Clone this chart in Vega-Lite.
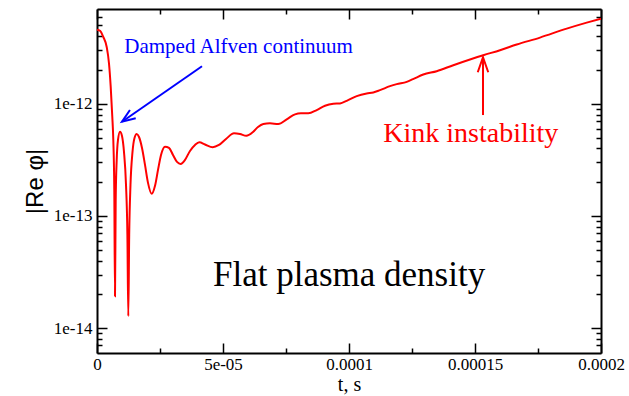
{
  "$schema": "https://vega.github.io/schema/vega-lite/v6.json",
  "width": 504,
  "height": 344,
  "autosize": "none",
  "padding": {"left": 97, "top": 9, "right": 28, "bottom": 43},
  "background": "white",
  "config": {
    "view": {"stroke": null},
    "axis": {
      "domainColor": "black", "domainWidth": 2, "tickColor": "black", "tickWidth": 1.5,
      "labelFont": "Liberation Serif", "labelFontSize": 17, "labelColor": "black",
      "grid": false, "titleColor": "black", "titleFontWeight": "normal"
    }
  },
  "data": {"values": [
    {"t": 0, "v": 4.585e-12}, {"t": 1.19e-6, "v": 4.474e-12}, {"t": 2.50e-6, "v": 3.940e-12},
    {"t": 3.85e-6, "v": 3.211e-12}, {"t": 4.76e-6, "v": 2.286e-12}, {"t": 5.44e-6, "v": 1.416e-12},
    {"t": 6.07e-6, "v": 7.66e-13}, {"t": 6.47e-6, "v": 4.756e-13}, {"t": 6.86e-6, "v": 1.710e-13},
    {"t": 7.14e-6, "v": 1.925e-14}, {"t": 7.42e-6, "v": 1.393e-13}, {"t": 7.82e-6, "v": 3.159e-13},
    {"t": 8.33e-6, "v": 4.756e-13}, {"t": 9.13e-6, "v": 5.638e-13}, {"t": 9.92e-6, "v": 5.163e-13},
    {"t": 1.071e-5, "v": 3.721e-13}, {"t": 1.151e-5, "v": 1.894e-13}, {"t": 1.206e-5, "v": 6.81e-14},
    {"t": 1.242e-5, "v": 1.278e-14}, {"t": 1.278e-5, "v": 6.81e-14}, {"t": 1.329e-5, "v": 1.894e-13},
    {"t": 1.409e-5, "v": 3.721e-13}, {"t": 1.488e-5, "v": 4.956e-13}, {"t": 1.575e-5, "v": 5.378e-13},
    {"t": 1.667e-5, "v": 5.058e-13}, {"t": 1.786e-5, "v": 4.038e-13}, {"t": 1.905e-5, "v": 2.851e-13},
    {"t": 2.024e-5, "v": 1.973e-13}, {"t": 2.171e-5, "v": 1.575e-13}, {"t": 2.302e-5, "v": 1.855e-13},
    {"t": 2.421e-5, "v": 2.574e-13}, {"t": 2.540e-5, "v": 3.499e-13}, {"t": 2.698e-5, "v": 4.147e-13},
    {"t": 2.857e-5, "v": 4.038e-13}, {"t": 3.016e-5, "v": 3.499e-13}, {"t": 3.175e-5, "v": 3.032e-13},
    {"t": 3.321e-5, "v": 2.911e-13}, {"t": 3.492e-5, "v": 3.159e-13}, {"t": 3.690e-5, "v": 3.798e-13},
    {"t": 3.889e-5, "v": 4.295e-13}, {"t": 4.060e-5, "v": 4.539e-13}, {"t": 4.286e-5, "v": 4.339e-13},
    {"t": 4.591e-5, "v": 4.097e-13}, {"t": 4.841e-5, "v": 4.295e-13}, {"t": 5.119e-5, "v": 4.856e-13},
    {"t": 5.437e-5, "v": 5.456e-13}, {"t": 5.675e-5, "v": 5.378e-13}, {"t": 5.925e-5, "v": 5.185e-13},
    {"t": 6.202e-5, "v": 5.638e-13}, {"t": 6.389e-5, "v": 6.208e-13}, {"t": 6.599e-5, "v": 6.6e-13},
    {"t": 6.865e-5, "v": 6.695e-13}, {"t": 7.194e-5, "v": 6.6e-13}, {"t": 7.528e-5, "v": 7.27e-13},
    {"t": 7.857e-5, "v": 8.048e-13}, {"t": 8.095e-5, "v": 8.215e-13}, {"t": 8.385e-5, "v": 8.215e-13},
    {"t": 8.718e-5, "v": 8.790e-13}, {"t": 9.048e-5, "v": 9.599e-13}, {"t": 9.377e-5, "v": 1.0e-12},
    {"t": 9.643e-5, "v": 1.008e-12}, {"t": 9.909e-5, "v": 1.063e-12}, {"t": 1.0306e-4, "v": 1.171e-12},
    {"t": 1.0702e-4, "v": 1.237e-12}, {"t": 1.0964e-4, "v": 1.263e-12}, {"t": 1.1230e-4, "v": 1.324e-12},
    {"t": 1.1627e-4, "v": 1.436e-12}, {"t": 1.1893e-4, "v": 1.497e-12}, {"t": 1.2290e-4, "v": 1.569e-12},
    {"t": 1.2540e-4, "v": 1.658e-12}, {"t": 1.2948e-4, "v": 1.825e-12}, {"t": 1.3480e-4, "v": 1.953e-12},
    {"t": 1.4139e-4, "v": 2.208e-12}, {"t": 1.4802e-4, "v": 2.481e-12}, {"t": 1.5329e-4, "v": 2.710e-12},
    {"t": 1.5992e-4, "v": 3.002e-12}, {"t": 1.6655e-4, "v": 3.373e-12}, {"t": 1.7579e-4, "v": 3.893e-12},
    {"t": 1.8639e-4, "v": 4.68e-12}, {"t": 1.9433e-4, "v": 5.291e-12}, {"t": 2.0e-4, "v": 5.742e-12}
  ]},
  "resolve": {"axis": {"x": "independent", "y": "independent"}},
  "layer": [
    {
      "mark": {"type": "line", "color": "#ff0000", "strokeWidth": 2, "interpolate": "monotone", "clip": true},
      "encoding": {
        "x": {"field": "t", "type": "quantitative",
          "scale": {"domain": [0, 0.0002], "nice": false, "zero": false},
          "axis": {"orient": "bottom", "values": [0, 0.00005, 0.0001, 0.00015, 0.0002], "tickSize": -10,
            "labelPadding": 13, "labelFlush": false,
            "labelExpr": "datum.value < 1e-6 ? '0' : datum.value < 6e-5 ? '5e-05' : datum.value < 1.2e-4 ? '0.0001' : datum.value < 1.7e-4 ? '0.00015' : '0.0002'",
            "title": "t, s", "titleFont": "Liberation Serif", "titleFontSize": 20, "titlePadding": 2}},
        "y": {"field": "v", "type": "quantitative",
          "scale": {"type": "log", "domain": [6e-15, 7e-12], "nice": false},
          "axis": {"orient": "left", "values": [1e-14, 1e-13, 1e-12], "tickSize": -10, "labelPadding": 15,
            "labelFlush": false,
            "labelExpr": "datum.value < 5e-14 ? '1e-14' : datum.value < 5e-13 ? '1e-13' : '1e-12'",
            "title": "|Re φ|", "titleFont": "Liberation Sans", "titleFontSize": 24, "titlePadding": 6}}
      }
    },
    {
      "mark": {"type": "line", "strokeOpacity": 0},
      "encoding": {
        "x": {"field": "t", "type": "quantitative",
          "axis": {"orient": "bottom", "values": [0.000025, 0.000075, 0.000125, 0.000175], "tickSize": -5,
            "labels": false, "domain": false, "title": null}},
        "y": {"field": "v", "type": "quantitative",
          "axis": {"orient": "left", "values": [7e-15, 8e-15, 9e-15, 2e-14, 3e-14, 4e-14, 5e-14, 6e-14, 7e-14, 8e-14, 9e-14, 2e-13, 3e-13, 4e-13, 5e-13, 6e-13, 7e-13, 8e-13, 9e-13, 2e-12, 3e-12, 4e-12, 5e-12, 6e-12],
            "tickSize": -5, "labels": false, "domain": false, "title": null}}
      }
    },
    {
      "mark": {"type": "line", "strokeOpacity": 0},
      "encoding": {
        "x": {"field": "t", "type": "quantitative",
          "axis": {"orient": "top", "values": [0, 0.00005, 0.0001, 0.00015, 0.0002], "tickSize": -10,
            "labels": false, "title": null}},
        "y": {"field": "v", "type": "quantitative",
          "axis": {"orient": "right", "values": [1e-14, 1e-13, 1e-12], "tickSize": -10,
            "labels": false, "title": null}}
      }
    },
    {
      "mark": {"type": "line", "strokeOpacity": 0},
      "encoding": {
        "x": {"field": "t", "type": "quantitative",
          "axis": {"orient": "top", "values": [0.000025, 0.000075, 0.000125, 0.000175], "tickSize": -5,
            "labels": false, "domain": false, "title": null}},
        "y": {"field": "v", "type": "quantitative",
          "axis": {"orient": "right", "values": [7e-15, 8e-15, 9e-15, 2e-14, 3e-14, 4e-14, 5e-14, 6e-14, 7e-14, 8e-14, 9e-14, 2e-13, 3e-13, 4e-13, 5e-13, 6e-13, 7e-13, 8e-13, 9e-13, 2e-12, 3e-12, 4e-12, 5e-12, 6e-12],
            "tickSize": -5, "labels": false, "domain": false, "title": null}}
      }
    },
    {
      "data": {"values": [{"t": 4.167e-5, "v": 2.163e-12, "t2": 9.92e-6, "v2": 6.918e-13}]},
      "mark": {"type": "rule", "color": "#0000ff", "strokeWidth": 2},
      "encoding": {
        "x": {"field": "t", "type": "quantitative", "axis": null},
        "y": {"field": "v", "type": "quantitative", "axis": null},
        "x2": {"field": "t2"},
        "y2": {"field": "v2"}
      }
    },
    {
      "data": {"values": [{"t": 9.92e-6, "v": 6.918e-13}]},
      "mark": {"type": "point", "shape": "M -1 -0.38 L 0 0 L -1 0.38", "filled": false, "stroke": "#0000ff",
        "strokeWidth": 2, "size": 700, "angle": 145, "opacity": 1},
      "encoding": {
        "x": {"field": "t", "type": "quantitative", "axis": null},
        "y": {"field": "v", "type": "quantitative", "axis": null}
      }
    },
    {
      "data": {"values": [{"t": 1.5317e-4, "v": 7.938e-13, "t2": 1.5317e-4, "v2": 2.601e-12}]},
      "mark": {"type": "rule", "color": "#ff0000", "strokeWidth": 2},
      "encoding": {
        "x": {"field": "t", "type": "quantitative", "axis": null},
        "y": {"field": "v", "type": "quantitative", "axis": null},
        "x2": {"field": "t2"},
        "y2": {"field": "v2"}
      }
    },
    {
      "data": {"values": [{"t": 1.5317e-4, "v": 2.601e-12}]},
      "mark": {"type": "point", "shape": "M -1 -0.35 L 0 0 L -1 0.35", "filled": false, "stroke": "#ff0000",
        "strokeWidth": 2, "size": 900, "angle": 270, "opacity": 1},
      "encoding": {
        "x": {"field": "t", "type": "quantitative", "axis": null},
        "y": {"field": "v", "type": "quantitative", "axis": null}
      }
    },
    {
      "data": {"values": [{"t": 1.083e-5, "v": 2.863e-12, "label": "Damped Alfven continuum"}]},
      "mark": {"type": "text", "font": "Liberation Serif", "fontSize": 21, "color": "#0000ff", "align": "left", "baseline": "alphabetic"},
      "encoding": {
        "x": {"field": "t", "type": "quantitative", "axis": null},
        "y": {"field": "v", "type": "quantitative", "axis": null},
        "text": {"field": "label"}
      }
    },
    {
      "data": {"values": [{"t": 1.1361e-4, "v": 4.595e-13, "label": "Kink instability"}]},
      "mark": {"type": "text", "font": "Liberation Serif", "fontSize": 28, "color": "#ff0000", "align": "left", "baseline": "alphabetic"},
      "encoding": {
        "x": {"field": "t", "type": "quantitative", "axis": null},
        "y": {"field": "v", "type": "quantitative", "axis": null},
        "text": {"field": "label"}
      }
    },
    {
      "data": {"values": [{"t": 4.603e-5, "v": 2.362e-14, "label": "Flat plasma density"}]},
      "mark": {"type": "text", "font": "Liberation Serif", "fontSize": 35, "color": "black", "align": "left", "baseline": "alphabetic"},
      "encoding": {
        "x": {"field": "t", "type": "quantitative", "axis": null},
        "y": {"field": "v", "type": "quantitative", "axis": null},
        "text": {"field": "label"}
      }
    }
  ]
}
